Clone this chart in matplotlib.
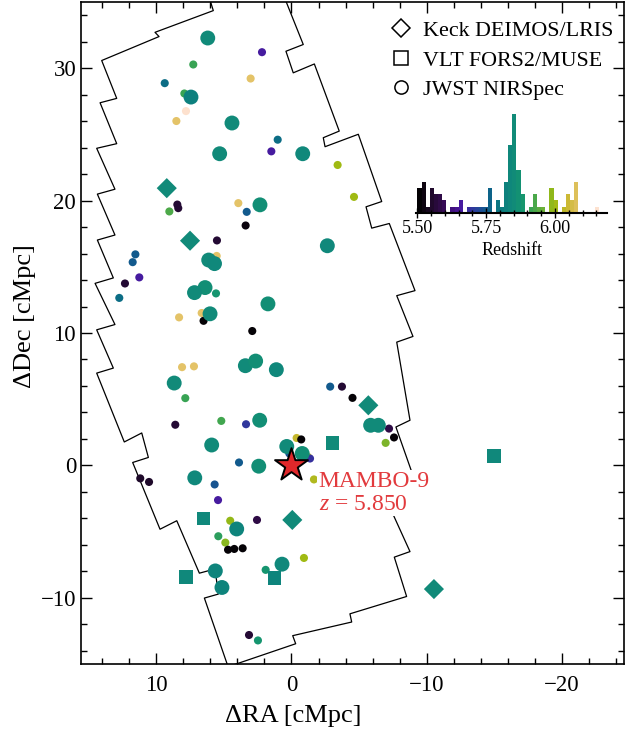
import numpy as np
import matplotlib
matplotlib.use("Agg")
import matplotlib.pyplot as plt
from matplotlib.colors import LinearSegmentedColormap, Normalize
from matplotlib.lines import Line2D

plt.rcParams['font.family'] = ['Liberation Serif', 'DejaVu Serif']
plt.rcParams['mathtext.fontset'] = 'custom'
plt.rcParams['mathtext.rm'] = 'Liberation Serif'
plt.rcParams['mathtext.it'] = 'Liberation Serif:italic'

# survey footprint outline (cMpc)
fp_ra = [1.29, -0.87, 0.41, -0.13, -1.69, -3.53, -2.35, -2.48, -4.94, -6.67,
         -5.51, -5.93, -7.23, -9.13, -7.78, -8.98, -7.78, -8.76, -7.72, -9.05,
         -6.69, -8.76, -7.60, -8.51, -4.32, -4.45, -0.09, -0.31, 3.86, 4.69,
         6.44, 5.41, 5.65, 6.81, 8.48, 9.72, 11.74, 10.58, 11.07, 12.36,
         14.40, 13.17, 14.40, 13.05, 14.52, 13.17, 14.35, 13.05, 14.35, 13.05,
         14.40, 12.92, 14.15, 12.92, 14.03, 9.79, 10.09, 5.78, 6.06, 1.29]
fp_dec = [37.31, 31.79, 31.28, 29.65, 30.32, 25.25, 24.75, 24.07, 25.01, 19.93,
          19.53, 17.92, 18.27, 13.20, 12.82, 9.74, 9.31, 3.41, 2.90, -0.96,
          -1.86, -6.51, -6.93, -9.90, -11.21, -11.83, -12.86, -13.47, -14.92, -15.20,
          -10.02, -9.72, -7.82, -8.14, -4.18, -4.82, 0.22, 0.60, 2.45, 1.77,
          6.97, 7.35, 10.24, 10.64, 13.75, 14.16, 17.02, 17.40, 20.49, 20.86,
          23.95, 24.30, 27.39, 27.72, 30.58, 32.39, 32.71, 34.35, 35.27, 37.31]

# small dots (non-members)
dot_ra = [2.18, 7.26, 3.02, 9.37, 7.92, 7.80, 8.51, 1.02, 1.49, -3.41,
          -4.62, 3.93, 8.44, 8.37, 9.03, 3.31, 3.39, 5.51, 11.54, 11.74,
          5.53, 11.25, 12.31, 5.58, 12.73, 8.31, 6.64, 6.50, 2.90, 8.09,
          7.21, 7.85, -2.86, -3.73, -4.51, -7.21, -7.58, -6.96, 8.59, 5.19,
          3.36, 3.88, -0.38, -0.72, 0.44, -1.22, -1.37, -1.66, 11.18, 10.53,
          5.68, 5.43, 4.53, 2.55, 5.41, 4.89, 4.69, 4.23, 3.61, 1.91,
          -0.92, 3.14, 2.48, 0.16]
dot_dec = [31.21, 30.28, 29.22, 28.87, 28.09, 26.76, 26.01, 24.60, 23.72, 22.69,
           20.28, 19.81, 19.70, 19.43, 19.18, 19.15, 18.12, 16.99, 15.94, 15.35,
           15.82, 14.20, 13.74, 12.99, 12.65, 11.18, 11.51, 10.92, 10.15, 7.42,
           7.48, 5.08, 5.95, 5.95, 5.10, 2.78, 2.11, 1.70, 3.07, 3.36,
           3.11, 0.22, 2.07, 1.96, 1.26, 0.64, 0.52, -1.06, -0.98, -1.25,
           -1.44, -2.62, -4.18, -4.12, -5.35, -5.83, -6.37, -6.31, -6.26, -7.89,
           -6.99, -12.81, -13.22, 0.90]
dot_z = [5.66, 5.91, 6.09, 5.78, 5.91, 6.15, 6.09, 5.78, 5.66, 6.00,
         6.00, 6.09, 5.56, 5.56, 5.93, 5.75, 5.52, 5.56, 5.75, 5.75,
         6.09, 5.66, 5.56, 5.88, 5.78, 6.09, 6.09, 5.51, 5.51, 6.09,
         6.09, 5.91, 5.75, 5.56, 5.51, 5.58, 5.51, 5.97, 5.56, 5.92,
         5.70, 5.75, 6.04, 5.51, 5.51, 6.03, 5.69, 6.02, 5.55, 5.55,
         5.74, 5.66, 5.99, 5.58, 5.90, 5.98, 5.51, 5.51, 5.51, 5.88,
         6.00, 5.56, 5.88, 5.74]

# JWST NIRSpec members (large circles)
jw_ra = [6.19, 7.43, 4.40, 5.31, -0.83, 2.33, -2.65, 6.12, 5.69, 6.39,
         7.17, 6.02, 1.74, 3.41, 2.65, 1.12, 8.67, 2.35, 5.90, 2.42,
         7.15, 0.35, -0.79, 4.05, 0.70, 5.63, 5.14, -5.85, -6.42]
jw_dec = [32.28, 27.82, 25.86, 23.54, 23.54, 19.68, 16.59, 15.51, 15.24, 13.43,
          13.05, 11.45, 12.20, 7.53, 7.88, 7.23, 6.22, 3.41, 1.54, -0.06,
          -0.94, 1.43, 0.90, -4.80, -7.46, -7.97, -9.22, 3.03, 3.03]
jw_z = [5.85, 5.82, 5.85, 5.85, 5.84, 5.86, 5.84, 5.85, 5.84, 5.86,
        5.85, 5.85, 5.86, 5.85, 5.86, 5.84, 5.85, 5.86, 5.85, 5.86,
        5.84, 5.85, 5.86, 5.83, 5.84, 5.83, 5.83, 5.85, 5.85]

# Keck DEIMOS/LRIS
keck_ra = [9.22, 7.50, -5.68, -0.06, -10.53]
keck_dec = [20.94, 16.97, 4.54, -4.12, -9.34]
keck_z = [5.85, 5.85, 5.85, 5.85, 5.85]

# VLT FORS2/MUSE
vlt_ra = [-3.02, -14.97, 6.52, 7.80, 1.27]
vlt_dec = [1.70, 0.70, -4.00, -8.44, -8.49]
vlt_z = [5.85, 5.84, 5.84, 5.84, 5.83]

# redshift histogram (bins of 0.015 from z = 5.50)
hist_start = 5.50
hist_width = 0.015
hist_counts = [4, 5, 1, 4, 3, 3, 2, 0, 1, 1, 2, 0, 1, 1, 1, 1, 1, 4, 0, 2,
               1, 5, 11, 16, 7, 3, 0, 1, 3, 1, 1, 0, 4, 2, 0, 1, 3, 2, 5, 0,
               0, 0, 0, 1]

z_colors = [(0.0, '#000000'), (0.03, '#0c040f'), (0.08, '#220a30'),
            (0.14, '#370b55'), (0.22, '#4a16a0'), (0.30, '#2c3c9c'),
            (0.37, '#0e5e8b'), (0.43, '#0b7981'), (0.50, '#10897a'),
            (0.55, '#15956f'), (0.60, '#3ba452'), (0.66, '#69b13a'),
            (0.72, '#9cba10'), (0.79, '#c9b830'), (0.86, '#e6c46c'),
            (0.94, '#fde0cc'), (1.0, '#fff0e6')]
cmap = LinearSegmentedColormap.from_list('zmap', z_colors)
norm = Normalize(vmin=5.50, vmax=6.19)

fig = plt.figure(figsize=(6.41, 7.32), dpi=100)
ax = fig.add_axes([81 / 641, 1 - 664 / 732, 543 / 641, 662 / 732])

ax.plot(fp_ra, fp_dec, color='k', lw=0.9, zorder=1)

ax.scatter(dot_ra, dot_dec, c=dot_z, cmap=cmap, norm=norm, s=34,
           marker='o', linewidths=0, zorder=3)
ax.scatter(jw_ra, jw_dec, c=jw_z, cmap=cmap, norm=norm, s=115,
           marker='o', linewidths=0, zorder=3)
ax.scatter(keck_ra, keck_dec, c=keck_z, cmap=cmap, norm=norm, s=105,
           marker='D', linewidths=0, zorder=3)
ax.scatter(vlt_ra, vlt_dec, c=vlt_z, cmap=cmap, norm=norm, s=95,
           marker='s', linewidths=0, zorder=3)

ax.scatter([0], [0], marker='*', s=620, c='#e0282b', edgecolors='k',
           linewidths=1.4, zorder=6)
ax.text(-2.0, -2.1, 'MAMBO-9\n$z$ = 5.850', color='#e23a3d', fontsize=17,
        ha='left', va='center', linespacing=1.1, zorder=5,
        bbox=dict(facecolor='white', edgecolor='none', pad=1))

ax.set_xlim(15.56, -24.58)
ax.set_ylim(-15, 35)
ax.set_xticks([10, 0, -10, -20])
ax.set_yticks([-10, 0, 10, 20, 30])
ax.set_xticks(np.arange(14, -25, -2), minor=True)
ax.set_yticks(np.arange(-14, 35, 2), minor=True)
ax.tick_params(which='both', direction='in', top=True, right=True,
               labelsize=16.5, width=1.0)
ax.tick_params(axis='x', which='major', pad=8)
ax.tick_params(which='major', length=8)
ax.tick_params(which='minor', length=4)
for s in ax.spines.values():
    s.set_linewidth(1.2)
ax.set_xlabel('ΔRA [cMpc]', fontsize=19)
ax.set_ylabel('ΔDec [cMpc]', fontsize=19)
ax.xaxis.set_label_coords(0.39, -0.062)
ax.yaxis.set_label_coords(-0.083, 0.526)

handles = [Line2D([], [], ls='none', marker='D', ms=9, mfc='white', mec='k', mew=1.1),
           Line2D([], [], ls='none', marker='s', ms=9.5, mfc='white', mec='k', mew=1.1),
           Line2D([], [], ls='none', marker='o', ms=9.5, mfc='white', mec='k', mew=1.1)]
ax.legend(handles, ['Keck DEIMOS/LRIS', 'VLT FORS2/MUSE', 'JWST NIRSpec'],
          loc='upper right', bbox_to_anchor=(1.014, 1.0), frameon=False,
          fontsize=15.8, handletextpad=0.4, handlelength=1.2,
          labelspacing=0.42, borderaxespad=0.45)

# redshift histogram inset
axh = fig.add_axes([416 / 641, 1 - 212.7 / 732, 191.3 / 641, 111 / 732])
axh.patch.set_alpha(0)
edges = hist_start + hist_width * np.arange(len(hist_counts))
centers = edges + hist_width / 2
axh.bar(edges, hist_counts, width=hist_width, align='edge',
        color=cmap(norm(centers)), linewidth=0)
axh.set_xlim(5.495, 6.19)
axh.set_ylim(0, 18)
for side in ['left', 'right', 'top']:
    axh.spines[side].set_visible(False)
axh.spines['bottom'].set_linewidth(1.5)
axh.set_yticks([])
axh.set_xticks([5.50, 5.75, 6.00])
axh.set_xticklabels(['5.50', '5.75', '6.00'])
axh.set_xticks(np.arange(5.50, 6.19, 0.05), minor=True)
axh.tick_params(which='both', direction='inout', labelsize=13, width=1.0)
axh.tick_params(which='major', length=7, pad=2)
axh.tick_params(which='minor', length=4)
axh.set_xlabel('Redshift', fontsize=13, labelpad=3)

fig.savefig('out.png', dpi=100)
